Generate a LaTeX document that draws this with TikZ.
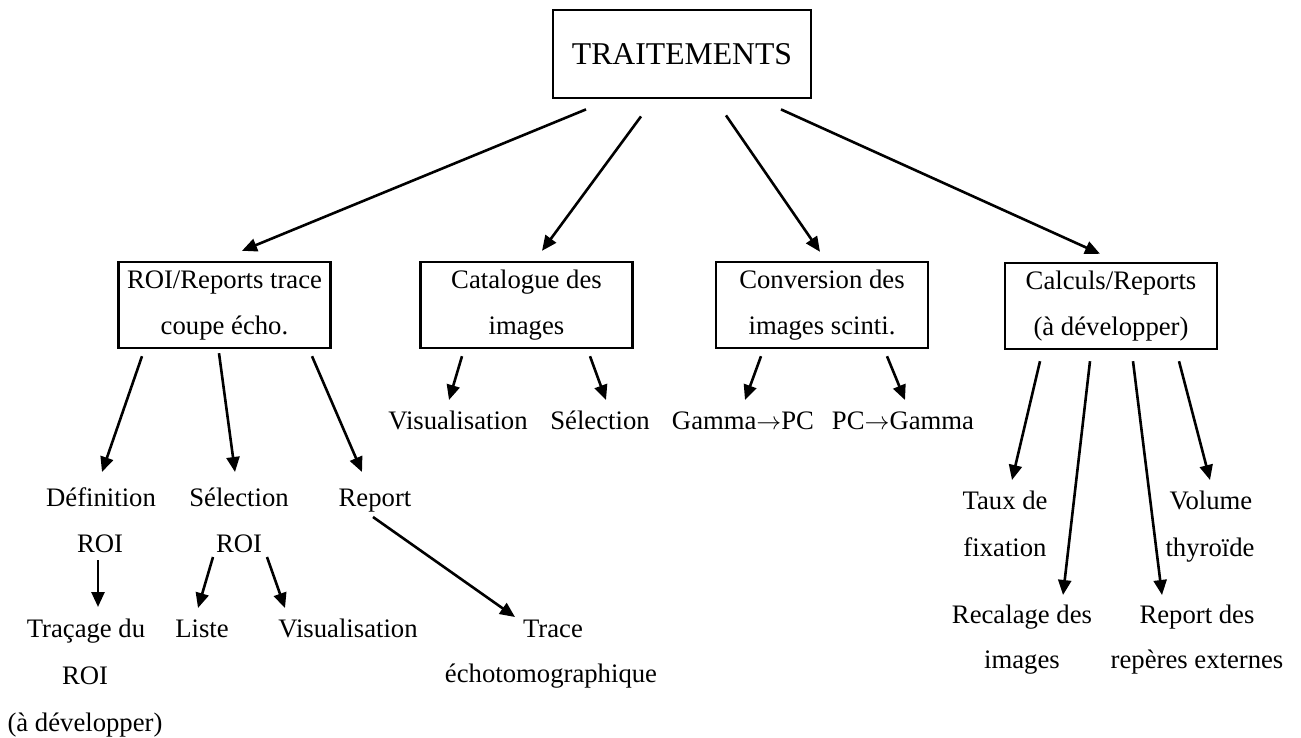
\documentclass[tikz,border=0pt]{standalone}
\usepackage{fontspec}
\setmainfont{Liberation Serif}
\usetikzlibrary{arrows.meta,calc}

\newcommand{\rarrow}{\ensuremath{\rightarrow}}

\tikzset{
  boxnode/.style={draw, line width=2.4pt, rectangle, align=center,
    minimum width=212pt, minimum height=86pt, inner sep=0pt,
    font=\fontsize{26.7}{46}\selectfont},
  titlenode/.style={draw, line width=2.8pt, rectangle,
    minimum width=258pt, minimum height=88pt, inner sep=0pt,
    font=\fontsize{31.7}{38}\selectfont},
  leaf/.style={inner sep=0pt, text height=18pt, text depth=6pt,
    font=\fontsize{26.7}{46}\selectfont},
  arr/.style={line width=2.6pt, -{Triangle[length=15pt,width=13pt]}},
}

\begin{document}
\begin{tikzpicture}[x=1pt, y=-1pt]
\useasboundingbox (0,0) rectangle (1301,737);

% root and main branches
\node[titlenode] (top) at (682,54) {TRAITEMENTS};
\node[boxnode] (roi)  at (224.5,305) {ROI/Reports trace\\coupe écho.};
\node[boxnode] (cat)  at (526.5,305) {Catalogue des\\images};
\node[boxnode] (conv) at (822,305)   {Conversion des\\images scinti.};
\node[boxnode] (calc) at (1111,306)  {Calculs/Reports\\(à développer)};

% ROI / reports branch
\node[leaf] (def1) at (101,500) {Définition};
\node[leaf] (def2) at (100,546) {ROI};
\node[leaf] (sel1) at (239,500) {Sélection};
\node[leaf] (sel2) at (239,546) {ROI};
\node[leaf] (rep)  at (375,500) {Report};
\node[leaf] (tra1) at (86,631)  {Traçage du};
\node[leaf] (tra2) at (85,678)  {ROI};
\node[leaf] (tra3) at (85,725)  {(à développer)};
\node[leaf] (liste) at (202,631) {Liste};
\node[leaf] (vis1) at (348,631) {Visualisation};
\node[leaf] (trace1) at (553,631) {Trace};
\node[leaf] (trace2) at (551,676) {échotomographique};

% catalogue and conversion branches
\node[leaf] (vis2) at (458,423) {Visualisation};
\node[leaf] (sel3) at (600,423) {Sélection};
\node[leaf] (g2p)  at (743,423) {Gamma\rarrow PC};
\node[leaf] (p2g)  at (903,423) {PC\rarrow Gamma};

% calculations branch
\node[leaf] (taux1) at (1005,503) {Taux de};
\node[leaf] (taux2) at (1005,550) {fixation};
\node[leaf] (vol1)  at (1211,503) {Volume};
\node[leaf] (vol2)  at (1210,550) {thyroïde};
\node[leaf] (rec1)  at (1022,617) {Recalage des};
\node[leaf] (rec2)  at (1022,662) {images};
\node[leaf] (rdes1) at (1197,617) {Report des};
\node[leaf] (rdes2) at (1197,662) {repères externes};

% root connectors
\draw[arr] ($(top.south)+(-96,10)$) -- ($(roi.north)+(17.5,-10)$);
\draw[arr] ($(top.south)+(-41,17)$) -- ($(cat.north)+(15.5,-10)$);
\draw[arr] ($(top.south)+(44,16)$)  -- ($(conv.north)+(-2,-9)$);
\draw[arr] ($(top.south)+(99,10)$)  -- ($(calc.north)+(-11,-8)$);

% ROI / reports connectors
\draw[arr] ($(roi.south)+(-82.5,7)$) -- ($(def1)+(1,-28)$);
\draw[arr] ($(roi.south)+(-5.5,4)$)  -- ($(sel1)+(-4,-28)$);
\draw[arr] ($(roi.south)+(87.5,7)$)  -- ($(rep)+(-13,-28)$);
\draw[arr] ($(def2)+(-2,14)$)  -- ($(tra1)+(12,-24)$);
\draw[arr] ($(sel2)+(-26,11)$) -- ($(liste)+(-4,-23)$);
\draw[arr] ($(sel2)+(28,11)$)  -- ($(vis1)+(-63,-23)$);
\draw[arr] ($(rep)+(-2,17)$)   -- ($(trace1)+(-38,-14)$);

% catalogue and conversion connectors
\draw[arr] ($(cat.south)+(-64.5,7)$) -- ($(vis2)+(-9,-23)$);
\draw[arr] ($(cat.south)+(63.5,7)$)  -- ($(sel3)+(6,-23)$);
\draw[arr] ($(conv.south)+(-61,7)$)  -- ($(g2p)+(2,-23)$);
\draw[arr] ($(conv.south)+(65,7)$)   -- ($(p2g)+(2,-23)$);

% calculations connectors
\draw[arr] ($(calc.south)+(-71,11)$) -- ($(taux1)+(7,-23)$);
\draw[arr] ($(calc.south)+(-21,11)$) -- ($(rec1)+(41,-22)$);
\draw[arr] ($(calc.south)+(22,11)$)  -- ($(rdes1)+(-35,-22)$);
\draw[arr] ($(calc.south)+(68,11)$)  -- ($(vol1)+(-1,-23)$);
\end{tikzpicture}
\end{document}
